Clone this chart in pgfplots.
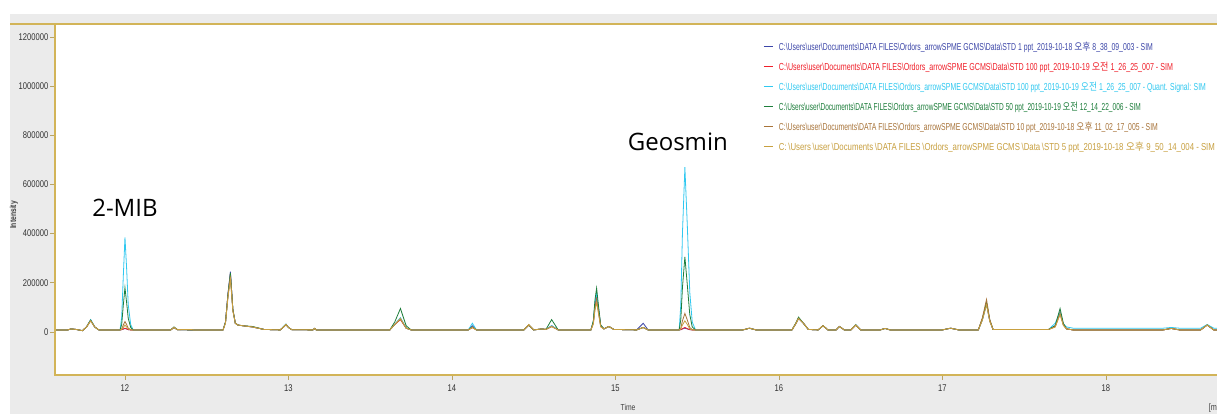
\documentclass[border=0pt]{standalone}
\usepackage{pgfplots}
\usepackage{pgfplotstable}
\usepackage{fontspec}
\usepackage{graphicx}
\pgfplotsset{compat=1.18}
\setmainfont{Liberation Sans}
\newfontfamily\narrow[FakeStretch=0.78]{Liberation Sans}
\newfontfamily\annfont{Open Sans}
\newfontfamily\kr{Noto Sans CJK KR}
\definecolor{cB}{HTML}{3C46A8}
\definecolor{cR}{HTML}{F0202A}
\definecolor{cC}{HTML}{30C8F0}
\definecolor{cG}{HTML}{1E7E3C}
\definecolor{cN}{HTML}{A8743A}
\definecolor{cY}{HTML}{C8A040}
\definecolor{axgold}{HTML}{D2B458}
\definecolor{bg}{HTML}{EBEBEB}
\newcommand{\bsl}{\textbackslash}
\newcommand{\pth}{C:\bsl Users\bsl user\bsl Documents\bsl DATA FILES\bsl Ordors\_arrowSPME GCMS\bsl Data\bsl STD}
\newcommand{\legtext}[3]{\textcolor{#1}{\resizebox{#2}{6.3pt}{\narrow #3}}}

\pgfplotstableread{
x       B       R       C       G       N       Y
11.572  8000    8000    8000    8000    8000    8000
11.65   8000    8000    8000    8000    8000    8000
11.67   12000   12000   12000   12000   12000   12000
11.70   10000   10000   10000   10000   10000   10000
11.74   5000    5000    5000    5000    5000    5000
11.765  20000   20000   20000   20000   20000   20000
11.79   48000   48000   50000   48000   45000   45000
11.815  20000   20000   20000   20000   20000   20000
11.84   8000    8000    8000    8000    8000    8000
11.97   8000    8000    8000    8000    8000    8000
11.98   9000    9000    60000   30000   12000   10000
11.99   11000   12000   230000  110000  28000   18000
12.00   14000   15000   385000  180000  42000   28000
12.01   12000   12000   260000  120000  30000   20000
12.02   9000    9000    110000  55000   15000   12000
12.035  8000    8000    30000   18000   9000    8000
12.05   8000    8000    8000    8000    8000    8000
12.28   8000    8000    8000    8000    8000    8000
12.30   18000   18000   18000   20000   18000   18000
12.32   9000    9000    9000    9000    9000    9000
12.40   8000    8000    8000    8000    8000    10000
12.42   8000    8000    8000    8000    8000    8000
12.60   8000    8000    8000    8000    8000    8000
12.615  40000   40000   40000   40000   38000   36000
12.63   155000  150000  148000  152000  145000  140000
12.645  245000  235000  232000  240000  225000  215000
12.66   90000   90000   90000   92000   88000   85000
12.675  35000   35000   35000   35000   35000   35000
12.69   28000   28000   28000   28000   28000   28000
12.72   25000   25000   25000   25000   25000   25000
12.78   20000   20000   20000   22000   20000   20000
12.85   10000   10000   10000   10000   10000   10000
12.95   8000    8000    8000    8000    8000    8000
12.97   20000   20000   22000   20000   20000   20000
12.985  30000   30000   32000   30000   30000   30000
13.00   18000   18000   18000   18000   18000   18000
13.02   9000    9000    9000    9000    9000    9000
13.15   8000    8000    8000    8000    8000    8000
13.16   14000   14000   14000   14000   14000   14000
13.17   8000    8000    8000    8000    8000    8000
13.62   8000    8000    8000    8000    8000    8000
13.65   30000   30000   30000   40000   30000   30000
13.685  55000   50000   58000   95000   52000   55000
13.72   15000   15000   15000   25000   15000   15000
13.75   8000    8000    8000    8000    8000    8000
14.10   8000    8000    8000    8000    8000    8000
14.125  25000   18000   35000   20000   18000   18000
14.15   8000    8000    8000    8000    8000    8000
14.44   8000    8000    8000    8000    8000    8000
14.47   28000   28000   28000   28000   28000   30000
14.50   8000    8000    8000    8000    8000    8000
14.55   12000   12000   12000   12000   12000   12000
14.575  10000   10000   10000   10000   10000   10000
14.61   25000   22000   25000   50000   22000   22000
14.65   8000    8000    8000    8000    8000    8000
14.85   8000    8000    8000    8000    8000    8000
14.865  40000   38000   42000   45000   35000   32000
14.875  110000  105000  118000  130000  96000   88000
14.885  150000  140000  160000  178000  130000  120000
14.895  100000  95000   105000  115000  88000   80000
14.91   25000   25000   25000   28000   22000   20000
14.93   12000   12000   12000   12000   12000   12000
14.96   22000   22000   22000   22000   22000   22000
14.99   10000   10000   10000   10000   10000   10000
15.13   8000    8000    8000    8000    8000    8000
15.17   35000   18000   18000   18000   18000   18000
15.20   8000    8000    8000    8000    8000    8000
15.39   8000    8000    8000    8000    8000    8000
15.40   9000    9000    110000  50000   15000   12000
15.41   12000   13000   400000  180000  45000   28000
15.425  15000   18000   670000  305000  75000   45000
15.44   12000   13000   430000  190000  48000   30000
15.455  9000    9000    160000  70000   18000   12000
15.47   8000    8000    40000   20000   9000    8000
15.49   8000    8000    8000    8000    8000    8000
15.78   8000    8000    8000    8000    8000    8000
15.82   15000   15000   15000   15000   15000   15000
15.86   8000    8000    8000    8000    8000    8000
16.08   8000    8000    8000    8000    8000    8000
16.105  35000   35000   35000   38000   35000   35000
16.12   55000   55000   55000   60000   55000   55000
16.15   35000   35000   35000   35000   35000   35000
16.18   10000   10000   10000   10000   10000   10000
16.24   8000    8000    8000    8000    8000    8000
16.27   25000   25000   25000   25000   25000   25000
16.30   8000    8000    8000    8000    8000    8000
16.35   8000    8000    8000    8000    8000    8000
16.37   22000   22000   22000   22000   22000   22000
16.40   8000    8000    8000    8000    8000    8000
16.44   8000    8000    8000    8000    8000    8000
16.47   28000   28000   30000   28000   28000   28000
16.50   8000    8000    8000    8000    8000    8000
16.62   8000    8000    8000    8000    8000    8000
16.65   14000   14000   14000   14000   14000   14000
16.68   8000    8000    8000    8000    8000    8000
17.00   8000    8000    8000    8000    8000    8000
17.05   15000   15000   15000   15000   15000   15000
17.10   8000    8000    8000    8000    8000    8000
17.22   8000    8000    8000    8000    8000    8000
17.245  50000   52000   50000   55000   58000   48000
17.27   115000  118000  115000  120000  132000  110000
17.29   45000   45000   45000   48000   50000   42000
17.31   10000   10000   10000   10000   10000   10000
17.45   10000   10000   10000   10000   10000   10000
17.65   10000   10000   10000   10000   10000   10000
17.69   25000   22000   35000   25000   20000   20000
17.72   80000   80000   80000   95000   75000   70000
17.74   30000   30000   32000   35000   28000   26000
17.76   12000   12000   20000   12000   12000   12000
17.80   8000    8000    15000   8000    8000    8000
18.35   8000    8000    15000   8000    8000    8000
18.40   14000   14000   18000   14000   14000   14000
18.45   8000    8000    15000   8000    8000    8000
18.58   8000    8000    15000   8000    8000    8000
18.62   28000   28000   30000   28000   28000   28000
18.66   8000    8000    15000   8000    8000    8000
18.68   8000    8000    15000   8000    8000    8000
}\chrom

\begin{document}
\begin{tikzpicture}
\fill[bg] (7.5pt,0pt) rectangle (912.75pt,300pt);
\begin{axis}[
  name=ax,
  at={(41.25pt,29.25pt)}, anchor=south west,
  width=871.5pt, height=263.25pt, scale only axis,
  xmin=11.572, xmax=18.68,
  ymin=-175500, ymax=1253000,
  axis background/.style={fill=white},
  axis line style={draw=none},
  clip mode=individual,
  xtick={12,13,14,15,16,17,18},
  ytick={0,200000,400000,600000,800000,1000000,1200000},
  scaled y ticks=false,
  xtick pos=bottom, ytick pos=left,
  tick align=outside,
  major tick length=3.5pt,
  tick style={color=axgold!70!gray, line width=0.5pt},
  /pgf/number format/assume math mode=true,
  yticklabel style={/pgf/number format/fixed, /pgf/number format/1000 sep={}, font=\narrow\fontsize{7.3}{8}\selectfont, text=black!80, xshift=2pt},
  xticklabel style={font=\narrow\fontsize{7.3}{8}\selectfont, text=black!80},
  every axis plot/.append style={line width=0.6pt},
  legend cell align=left,
  legend image code/.code={\draw[#1, line width=0.6pt] (0pt,0pt) -- (7pt,0pt);},
  legend style={at={(0.606,0.958)}, anchor=north west, draw=none, fill=none,
    nodes={inner sep=0pt, text height=6.3pt, text depth=1pt}, row sep=7.7pt,
    /tikz/every odd column/.append style={column sep=4pt}},
]
\addplot[cB] table[x=x,y=B] {\chrom};
\addlegendentry{\legtext{cB}{280.5pt}{\pth\ 1 ppt\_2019-10-18 {\kr 오후} 8\_38\_09\_003 - SIM}}
\addplot[cR] table[x=x,y=R] {\chrom};
\addlegendentry{\legtext{cR}{295.5pt}{\pth\ 100 ppt\_2019-10-19 {\kr 오전} 1\_26\_25\_007 - SIM}}
\addplot[cC] table[x=x,y=C] {\chrom};
\addlegendentry{\legtext{cC}{320.25pt}{\pth\ 100 ppt\_2019-10-19 {\kr 오전} 1\_26\_25\_007 - Quant. Signal: SIM}}
\addplot[cG] table[x=x,y=G] {\chrom};
\addlegendentry{\legtext{cG}{271.5pt}{\pth\ 50 ppt\_2019-10-19 {\kr 오전} 12\_14\_22\_006 - SIM}}
\addplot[cN] table[x=x,y=N] {\chrom};
\addlegendentry{\legtext{cN}{284.25pt}{\pth\ 10 ppt\_2019-10-18 {\kr 오후} 11\_02\_17\_005 - SIM}}
\addplot[cY] table[x=x,y=Y] {\chrom};
\addlegendentry{\legtext{cY}{327pt}{C:\,\bsl Users\,\bsl user\,\bsl Documents\,\bsl DATA FILES\,\bsl Ordors\_arrowSPME GCMS\,\bsl Data\,\bsl STD 5 ppt\_2019-10-18 {\kr 오후} 9\_50\_14\_004 - SIM}}
\node[font=\annfont\fontsize{18}{20}\selectfont] at (axis cs:12.0,506000) {2-MIB};
\node[font=\annfont\fontsize{18}{20}\selectfont] at (axis cs:15.382,775500) {Geosmin};
\end{axis}
\draw[axgold, line width=0.8pt] (ax.south east) -- (ax.south west) -- (ax.north west) -- (ax.north east);
\draw[axgold, line width=0.8pt] (7.5pt,292.5pt) -- (41.25pt,292.5pt);
\node[rotate=90, font=\narrow\fontsize{6.5}{7}\selectfont\bfseries, text=black!75] at (10.5pt,149.25pt) {Intensity};
\node[anchor=north, font=\narrow\fontsize{6.5}{7}\selectfont, text=black!75, inner sep=0pt] at (471pt,7.5pt) {Time};
\node[anchor=north west, font=\narrow\fontsize{7}{8}\selectfont, text=black!75, inner sep=0pt] at (906.5pt,8pt) {[min]};
\pgfresetboundingbox
\path[use as bounding box] (0pt,0pt) rectangle (912.75pt,310.5pt);
\end{tikzpicture}
\end{document}
